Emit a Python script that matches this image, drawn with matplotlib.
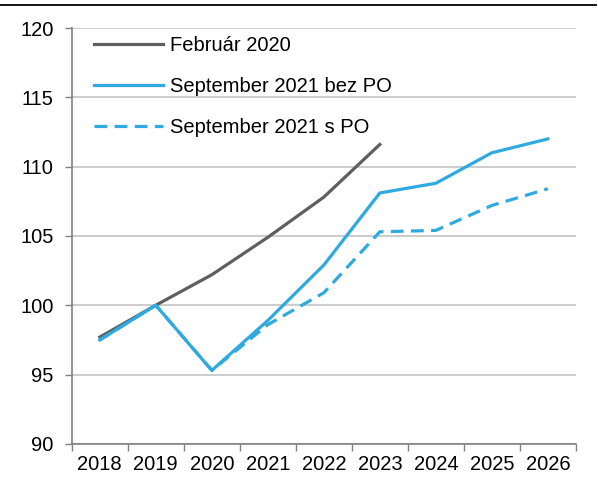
import matplotlib
matplotlib.use("Agg")
import matplotlib.pyplot as plt
from matplotlib.lines import Line2D

plt.rcParams['font.family'] = ['Liberation Sans', 'DejaVu Sans']
fs = 14.5

years = ["2018", "2019", "2020", "2021", "2022", "2023", "2024", "2025", "2026"]
feb2020 = [97.7, 100.0, 102.2, 104.9, 107.8, 111.6]
sep2021_bez = [97.5, 100.0, 95.3, 98.9, 102.9, 108.1, 108.8, 111.0, 112.0]
sep2021_s = [97.5, 100.0, 95.3, 98.6, 100.9, 105.3, 105.4, 107.2, 108.4]

gray = "#5f5f5f"
blue = "#2eaae1"

fig = plt.figure(figsize=(5.98, 4.83), dpi=100)
ax = fig.add_axes([0.120, 0.081, 0.843, 0.861])

x_all = list(range(len(years)))
ax.plot(x_all[:len(feb2020)], feb2020, color=gray, lw=2.3, label="Február 2020")
ax.plot(x_all, sep2021_bez, color=blue, lw=2.3, label="September 2021 bez PO")
ax.plot(x_all, sep2021_s, color=blue, lw=2.3, ls=(0, (4, 2.3)), label="September 2021 s PO")

ax.set_xlim(-0.5, len(years) - 0.5)
ax.set_ylim(90, 120)
ax.set_yticks(range(90, 121, 5))
ax.set_xticks(x_all)
ax.set_xticklabels(years)
ax.set_xticks([i - 0.5 for i in range(len(years) + 1)], minor=True)
ax.tick_params(axis='x', which='major', length=0, pad=8, labelsize=fs)
ax.tick_params(axis='x', which='minor', length=5, color="#808080", width=1)
ax.tick_params(axis='y', length=5, color="#808080", width=1, labelsize=fs, pad=8)

ax.grid(axis='y', color="#c4c4c4", lw=1.2)
ax.set_axisbelow(True)
for s in ['top', 'right']:
    ax.spines[s].set_visible(False)
for s in ['left', 'bottom']:
    ax.spines[s].set_color("#808080")
    ax.spines[s].set_linewidth(1.2)

leg = ax.legend(loc='upper left', frameon=False, fontsize=fs, handlelength=3.4,
                handletextpad=0.35, labelspacing=1.1, bbox_to_anchor=(0.025, 1.005),
                borderaxespad=0.1)

fig.add_artist(Line2D([0.0, 0.997], [0.989, 0.989], color='black', lw=1.3, transform=fig.transFigure))

fig.savefig("out.png", dpi=100)
